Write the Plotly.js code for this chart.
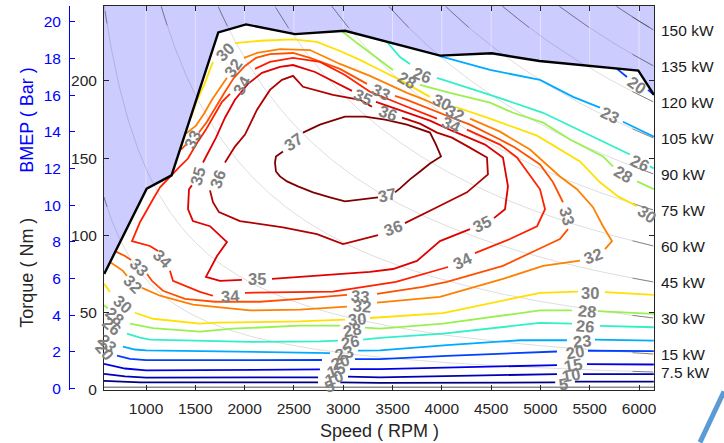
<!DOCTYPE html>
<html><head><meta charset="utf-8">
<script src="https://cdn.plot.ly/plotly-3.0.1.min.js"></script>
<style>html,body{margin:0;padding:0;background:#fff}#chart{width:724px;height:443px}</style>
</head><body><div id="chart"></div>
<script>
// ---------- data ----------
const speedTicks = [1000,1500,2000,2500,3000,3500,4000,4500,5000,5500,6000];
const torqueTicks = [0,50,100,150,200];
const bmepTicks = [0,2,4,6,8,10,12,14,16,18,20];
const powerKW = [7.5,15,30,45,60,75,90,105,120,135,150];

const wotRpm = [576,1007,1259,1733,2014,2511,3018,3982,4506,4990,5993,6152];
const wotTorque = [75.1,130.3,138.9,231.4,236.6,230.3,232.5,216.4,217.9,212.9,206.7,191.0];

const levels = [5,10,15,20,23,26,28,30,32,33,34,35,36,37];
const levelColors = ['#000080','#0000b4','#0000e6','#0040ff','#00aaff','#30f0c8','#9af050','#ffe000','#ff8000','#ff5000','#ff2000','#e00000','#b00000','#800000'];

const c5Rpm = [574,940,2745,null,2970,3373,5150,null,5350,6150];
const c5Nm  = [5.9,4.9,4.9,null,4.9,4.6,4.9,null,5.4,5.4];
const c10Rpm = [574,787,1000,2745,null,3048,3373,5168,null,5432,6150];
const c10Nm  = [10.4,8.8,8.0,8.2,null,8.6,8.2,10.3,null,10.3,10.3];
const c15Rpm = [574,787,1000,2764,null,3069,3373,5168,null,5472,6150];
const c15Nm  = [16.9,13.9,12.7,13.3,null,13.5,13.5,16.1,null,16.7,16.5];
const c20Rpm = [706,838,1000,2785,null,3119,3373,4052,5168,null,5482,6150,null,5777,5878,null,6091,6150];
const c20Nm  = [22.3,20.1,19.3,19.4,null,20.0,20.0,22.1,24.9,null,25.4,25.1,null,207.8,202.6,null,194.2,191.0];
const c23Rpm = [766,888,1000,2562,2866,null,3150,3373,4052,4793,5270,null,5553,6150,null,3981,4489,4996,5331,5604,null,5837,6150];
const c23Nm  = [28.1,26.2,25.7,24.3,23.9,null,25.5,25.7,29.0,32.2,32.2,null,32.6,32.0,null,216.1,207.1,200.7,189.7,182.7,null,173.6,164.0];
const c26Rpm = [807,939,1040,2055,2764,2947,null,3201,3373,4012,4996,5320,null,5604,6150,null,3444,3576,3677,null,3951,4458,5027,5452,5908,null,6111,6150];
const c26Nm  = [36.5,33.9,32.6,31.1,31.5,32.0,null,32.6,33.7,36.5,43.4,42.9,null,41.5,40.6,null,225.2,215.5,211.0,null,202.0,191.7,179.4,166.6,152.4,null,144.7,143.4];
const c28Rpm = [574,614,null,838,1071,1547,1882,2562,2967,null,3221,3373,4012,4996,5320,null,5584,6150,null,2988,3140,3343,3505,null,3779,4083,4489,4722,5027,5300,5635,5736,null,5980,6150];
const c28Nm  = [54.8,52.9,null,42.9,40.0,37.8,39.7,41.6,41.6,null,40.4,39.7,42.9,51.5,51.5,null,51.1,49.2,null,232.2,224.5,214.9,207.1,null,197.5,192.3,185.9,179.4,173.0,162.1,151.1,144.7,null,135.0,129.9];
const c30Rpm = [576,635,null,888,1071,1547,1720,2562,3018,null,3271,4012,4996,5381,null,5655,6150,null,1456,1520,1590,1679,null,1902,2156,2491,2734,2967,3170,3373,3576,3880,null,4134,4489,4966,5198,5401,5604,5787,5980];
const c30Nm  = [68.7,63.5,null,50.0,46.1,42.9,43.6,44.4,45.5,null,46.6,49.8,62.9,63.7,null,63.3,61.6,null,176.2,187.8,197.5,212.3,null,224.5,226.0,226.9,225.3,219.4,213.6,207.1,200.7,189.7,null,183.3,175.6,164.6,155.6,147.9,134.4,125.3,118.9];
const c32Rpm = [635,766,807,null,959,1142,1476,2055,2562,3038,null,3343,3981,4620,5027,5401,null,5655,5726,5635,5533,5371,5198,4894,4590,4286,null,3981,3829,3647,3271,2967,2663,2359,2126,1994,null,1821,1750,1669,1588,1507,1405];
const c32Nm  = [82.9,77.1,73.8,null,66.1,61.0,55.2,51.5,52.0,53.9,null,56.5,60.3,71.9,80.3,83.7,null,91.2,96.4,106.0,118.3,129.9,138.2,155.6,167.2,175.6,null,183.3,187.8,192.3,203.3,211.0,220.0,220.6,218.1,214.9,null,202.0,195.5,187.8,178.8,171.1,165.9];
const c33Rpm = [685,787,848,null,1010,1061,1172,1395,1700,2156,2562,3038,null,3343,3809,4052,4620,5047,5198,5280,null,5229,5128,4996,4742,4590,4286,4103,3880,3647,3525,null,3241,2967,2663,2491,2257,2115,2004,1892,1801,1710,1618,1537,null,1405,1355];
const c33Nm  = [89.9,86.7,84.1,null,75.1,70.6,64.2,59.0,57.1,57.1,59.0,61.6,null,62.2,66.8,70.0,80.3,93.2,97.7,104.1,null,121.5,134.4,146.0,156.9,162.1,171.7,176.2,182.0,187.8,190.4,null,198.1,207.8,214.9,218.1,217.4,214.9,209.7,202.0,193.0,183.3,173.6,166.6,null,158.8,155.6];
const c34Rpm = [2105,2257,2491,2764,3018,3271,3647,3951,null,4255,4590,4762,4996,5047,4966,4691,4336,null,4063,3779,3535,2896,2004,null,1679,1547,1274,1243,null,1122,1040,858,939,1071,1142,1345,1426,1507,1608,1689,1771,1852];
const c34Nm  = [207.8,212.3,214.9,212.3,203.9,193.0,183.3,175.6,null,168.5,158.8,150.5,129.9,117.0,106.0,97.7,88.6,null,79.6,74.5,70.0,63.7,62.9,null,61.0,63.5,70.6,77.1,null,89.9,93.2,96.4,108.6,123.4,131.1,144.7,149.8,158.8,168.5,177.5,186.5,191.7];
const c35Rpm = [1578,1649,1710,1801,1902,2034,2176,2359,2491,2714,2967,3089,null,3332,3647,3880,4103,4438,4620,4671,4641,4529,null,4286,3981,3748,3505,3271,2633,2278,null,1973,1750,1608,1720,1821,1649,1476,1426,1436,1466];
const c35Nm  = [147.2,155.6,163.3,176.2,187.8,198.1,205.2,209.1,210.3,205.8,197.5,193.6,null,186.5,179.4,174.3,167.8,158.8,150.5,131.8,117.0,111.2,null,104.1,96.4,83.5,78.3,76.4,73.8,71.9,null,71.3,70.6,73.2,86.7,95.7,106.0,109.3,117.0,129.9,132.4];
const c36Rpm = [1801,1852,1902,2004,2126,2257,2379,2491,2592,2896,3170,3292,null,3596,3779,3951,4103,4266,4458,4468,4255,3951,3626,null,3353,2998,2734,2389,1953,1740,1679,1649];
const c36Nm  = [147.2,152.4,157.5,165.3,181.4,194.2,200.7,203.3,196.2,191.0,187.8,183.3,null,176.2,172.4,166.6,163.3,157.5,150.5,139.5,127.9,118.3,108.0,null,100.2,94.4,100.9,105.2,109.3,115.1,121.5,129.2];
const c37Rpm = [2592,2764,3018,3221,3424,3647,3880,3941,3992,3880,3779,3677,3576,3525,null,3353,3170,3018,2866,2694,2541,2430,2359,2318,2308,2318,2389];
const c37Nm  = [166.6,171.7,176.9,176.9,174.9,171.7,166.6,158.8,151.1,146.6,141.4,136.3,130.5,127.9,null,124.7,123.4,122.1,124.7,127.9,131.8,135.0,138.2,141.4,147.2,151.1,154.3];

const labelRpm   = [2491,3444, 1730,3454,3505, 1527,3201,4407,2126, 1973,4103,4205,1852,1172, 929,3170,5270,3383,1466, 868,3190,5533,4134,1882, 766,3140,5503,1801,4002,6081, 685,3089,5472,3647,5837, 655,3069,5452,3799,6010, 604,3008,5422,5706, 585,2967,5351,5980, 2927,5331, 2906,5310, 2866,5239];
const labelNm    = [160.8,126.0, 136.3,179.4,104.7, 138.2,189.7,107.3,71.9, 197.5,171.7,83.5,61.0,84.8, 79.6,61.0,112.5,193.0,162.1, 68.7,54.5,86.7,179.4,208.4, 55.8,46.1,62.9,218.7,186.5,113.8, 48.1,39.1,51.3,200.7,139.5, 41.6,31.3,41.6,203.9,147.2, 30.1,23.9,32.0,178.2, 25.5,18.1,24.3,197.5, 12.7,15.9, 7.5,9.4, 2.4,3.6];
const labelText  = ['37','37','36','36','36','35','35','35','35','34','34','34','34','34','33','33','33','33','33','32','32','32','32','32','30','30','30','30','30','30','28','28','28','28','28','26','26','26','26','26','23','23','23','23','20','20','20','20','15','15','10','10','5','5'];
const labelAngle = [-35,-12, -70,20,-20, -75,25,-25,0, -60,25,-25,-3,45, 45,5,75,25,-65, 45,5,-20,25,-55, 40,-5,0,-45,25,35, 40,-10,5,30,30, 40,-10,5,20,25, 45,-15,-5,25, 50,-20,-10,35, -20,-10, -20,-10, -20,-10];

// ---------- drawing ----------
const xRange = [574, 6152];
const yRange = [0, 248.5];
const bmepRange = [-0.08, 20.87];
const FONT = 'Liberation Sans, Arial, Helvetica, sans-serif';

const contours = [[c5Rpm,c5Nm],[c10Rpm,c10Nm],[c15Rpm,c15Nm],[c20Rpm,c20Nm],[c23Rpm,c23Nm],[c26Rpm,c26Nm],[c28Rpm,c28Nm],[c30Rpm,c30Nm],[c32Rpm,c32Nm],[c33Rpm,c33Nm],[c34Rpm,c34Nm],[c35Rpm,c35Nm],[c36Rpm,c36Nm],[c37Rpm,c37Nm]];
const torqueAt = (p, r) => p*60000/(2*Math.PI*r);

const traces = [];
// shaded region above the full-load curve
traces.push({type:'scatter', mode:'lines', x:[xRange[0]].concat(wotRpm,[xRange[1],xRange[0]]), y:[wotTorque[0]].concat(wotTorque,[yRange[1],yRange[1]]),
  fill:'toself', fillcolor:'rgb(204,204,255)', line:{width:0}, hoverinfo:'skip'});
// faint white grid over shading
speedTicks.forEach(v => traces.push({type:'scatter', mode:'lines', x:[v,v], y:yRange, line:{color:'rgba(255,255,255,0.45)', width:1}, hoverinfo:'skip'}));
// thin gray line just above the speed axis
traces.push({type:'scatter', mode:'lines', x:xRange, y:[1.8,1.8], line:{color:'#8c8c8c', width:1.5}, hoverinfo:'skip'});
// constant power lines
const rpmSamples = [];
for (let r = xRange[0]; r <= xRange[1]; r += 10) rpmSamples.push(r);
powerKW.forEach(p => {
  traces.push({type:'scatter', mode:'lines', x:rpmSamples, y:rpmSamples.map(r => torqueAt(p,r)),
    line:{color:'rgba(0,0,0,0.15)', width:0.9}, hoverinfo:'skip'});
  // darker stubs at both ends
  const rEnd = rpmSamples.filter(r => r >= 5930);
  traces.push({type:'scatter', mode:'lines', x:rEnd, y:rEnd.map(r => torqueAt(p,r)), line:{color:'rgba(60,60,60,0.55)', width:1}, hoverinfo:'skip'});
  const rTop = Math.max(xRange[0], p*60000/(2*Math.PI*yRange[1]));
  const rStart = rpmSamples.filter(r => r >= rTop && r <= rTop*1.06);
  traces.push({type:'scatter', mode:'lines', x:rStart, y:rStart.map(r => torqueAt(p,r)), line:{color:'rgba(60,60,60,0.5)', width:1}, hoverinfo:'skip'});
});
// efficiency contours
contours.forEach((c,i) => traces.push({type:'scatter', mode:'lines', x:c[0], y:c[1], connectgaps:false,
  line:{color:levelColors[i], width:1.8}, hoverinfo:'skip'}));
// full-load curve
traces.push({type:'scatter', mode:'lines', x:wotRpm, y:wotTorque, line:{color:'#000', width:2.4}, hoverinfo:'skip'});
// BMEP axis holder
traces.push({type:'scatter', mode:'markers', x:[null], y:[null], yaxis:'y2', hoverinfo:'skip'});

const annotations = [];
labelText.forEach((t,i) => annotations.push({x:labelRpm[i], y:labelNm[i], xref:'x', yref:'y', text:'<b>'+t+'</b>', textangle:labelAngle[i], showarrow:false,
  font:{family:FONT, size:16.5, color:'#808080'}}));
powerKW.forEach(p => annotations.push({x:1, xref:'paper', y:torqueAt(p, xRange[1]), yref:'y', xanchor:'left', yanchor:'middle', xshift:5,
  text:p+' kW', showarrow:false, font:{family:FONT, size:15.5, color:'#1a1a1a'}}));
const PH = 384.5, PB = 390.5;
annotations.push({xref:'paper', yref:'paper', x:379/654, y:(PB-432)/PH, text:'Speed ( RPM )', showarrow:false, xanchor:'center', yanchor:'middle', font:{family:FONT, size:18, color:'#262626'}});
annotations.push({xref:'paper', yref:'paper', x:27/654, y:(PB-273)/PH, text:'Torque ( Nm )', textangle:-90, showarrow:false, xanchor:'center', yanchor:'middle', font:{family:FONT, size:18, color:'#262626'}});
annotations.push({xref:'paper', yref:'paper', x:27/654, y:(PB-120)/PH, text:'BMEP ( Bar )', textangle:-90, showarrow:false, xanchor:'center', yanchor:'middle', font:{family:FONT, size:18, color:'#0000ff'}});

const axisCommon = {showgrid:false, zeroline:false, showline:true, linecolor:'#262626', linewidth:1, ticks:'inside', ticklen:5, tickcolor:'#262626', tickfont:{family:FONT, size:15.5, color:'#262626'}, fixedrange:true};

const layout = {
  width:724, height:443, margin:{l:0, r:70, t:6, b:52.5, pad:0},
  paper_bgcolor:'#fff', plot_bgcolor:'#fff', showlegend:false,
  font:{family:FONT, size:15, color:'#262626'},
  xaxis:Object.assign({}, axisCommon, {domain:[104/654, 1], range:xRange, tickvals:speedTicks, mirror:'ticks', ticklabelstandoff:4}),
  yaxis:Object.assign({}, axisCommon, {range:yRange, tickvals:torqueTicks, mirror:'ticks', anchor:'x', ticklabelstandoff:3}),
  yaxis2:{overlaying:'y', anchor:'free', position:69/654, side:'left', range:bmepRange, tickvals:bmepTicks, showgrid:false, zeroline:false,
    showline:true, linecolor:'#0000ff', linewidth:1, ticks:'inside', ticklen:5, tickcolor:'#0000ff', tickfont:{family:FONT, size:15.5, color:'#0000ff'}, ticklabelstandoff:5, fixedrange:true},
  annotations:annotations,
  shapes:[{type:'line', xref:'paper', yref:'paper', x0:724/654, y0:(PB-392)/PH, x1:700/654, y1:(PB-443)/PH, line:{color:'rgb(91,155,213)', width:5}}]
};

Plotly.newPlot('chart', traces, layout, {staticPlot:true, displayModeBar:false});
</script></body></html>
